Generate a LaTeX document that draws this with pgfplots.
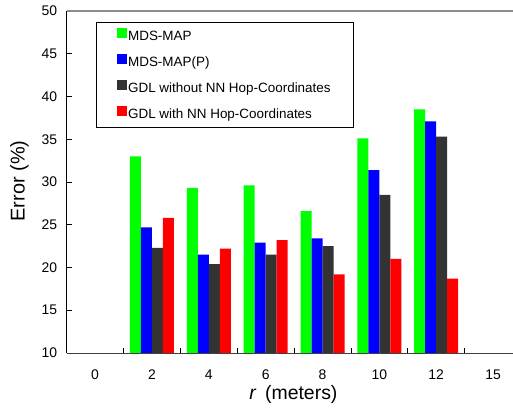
\documentclass[border=0pt]{standalone}
\usepackage{pgfplots}
\pgfplotsset{compat=1.18}
\usepackage{fontspec}
\setmainfont{Liberation Sans}
\definecolor{cgreen}{RGB}{0,255,0}
\definecolor{cblue}{RGB}{0,0,255}
\definecolor{cdark}{RGB}{51,51,51}
\definecolor{cred}{RGB}{255,0,0}
\begin{document}
\begin{tikzpicture}
\useasboundingbox (-66.7bp,-55bp) rectangle (446.3bp,353bp);
\begin{axis}[
  scale only axis, width=446.3bp, height=342bp,
  xmin=-0.5, xmax=7.35, ymin=10, ymax=50,
  axis x line*=bottom, axis y line*=left,
  x axis line style={line width=1bp, draw=black!75},
  y axis line style={line width=0.9bp, draw=black},
  ybar=0pt, bar width=11bp,
  ytick={10,15,...,50},
  xtick={0.5,1.5,...,6.5}, xticklabels={},
  extra x ticks={0,1,...,7},
  extra x tick labels={0,2,4,6,8,10,12,15},
  extra x tick style={major tick length=0pt},
  tick align=inside, major tick length=5bp,
  tick style={line width=0.7bp, black},
  /pgf/number format/assume math mode=true,
  ticklabel style={font=\fontsize{14}{16}\selectfont},
  xticklabel style={yshift=-13bp},
  yticklabel style={xshift=-6bp},
  xlabel={\textit{r}\, (meters)},
  xlabel style={at={(axis description cs:0.508,-0.122)}, anchor=center, font=\fontsize{19.5}{22}\selectfont},
  ylabel={Error (\%)},
  ylabel style={at={(axis description cs:-0.106,0.503)}, anchor=center, font=\fontsize{20}{23}\selectfont},
  legend style={at={(axis description cs:0.065,0.969)}, anchor=north west,
    draw=black, line width=0.8bp, inner xsep=21bp, inner ysep=6bp,
    row sep=11bp, font=\fontsize{13.5}{15}\selectfont,
    nodes={inner xsep=1.5bp, inner ysep=0pt, text height=9.7bp, text depth=2.5bp}},
  legend cell align=left,
  legend image code/.code={\fill[#1,draw=none] (0bp,-0.5bp) rectangle (9.5bp,9bp);},
]
\addplot[fill=cgreen, draw=none] coordinates {(1,33.0) (2,29.3) (3,29.6) (4,26.6) (5,35.1) (6,38.5)};
\addplot[fill=cblue, draw=none] coordinates {(1,24.7) (2,21.5) (3,22.9) (4,23.4) (5,31.4) (6,37.1)};
\addplot[fill=cdark, draw=none] coordinates {(1,22.3) (2,20.4) (3,21.5) (4,22.5) (5,28.5) (6,35.3)};
\addplot[fill=cred, draw=none] coordinates {(1,25.8) (2,22.2) (3,23.2) (4,19.2) (5,21.0) (6,18.7)};
\legend{MDS-MAP, MDS-MAP(P), GDL without NN Hop-Coordinates, GDL with NN Hop-Coordinates}
\draw[line width=1.2bp, draw=black!45] (rel axis cs:0,1) -- (rel axis cs:1,1);
\end{axis}
\end{tikzpicture}
\end{document}
